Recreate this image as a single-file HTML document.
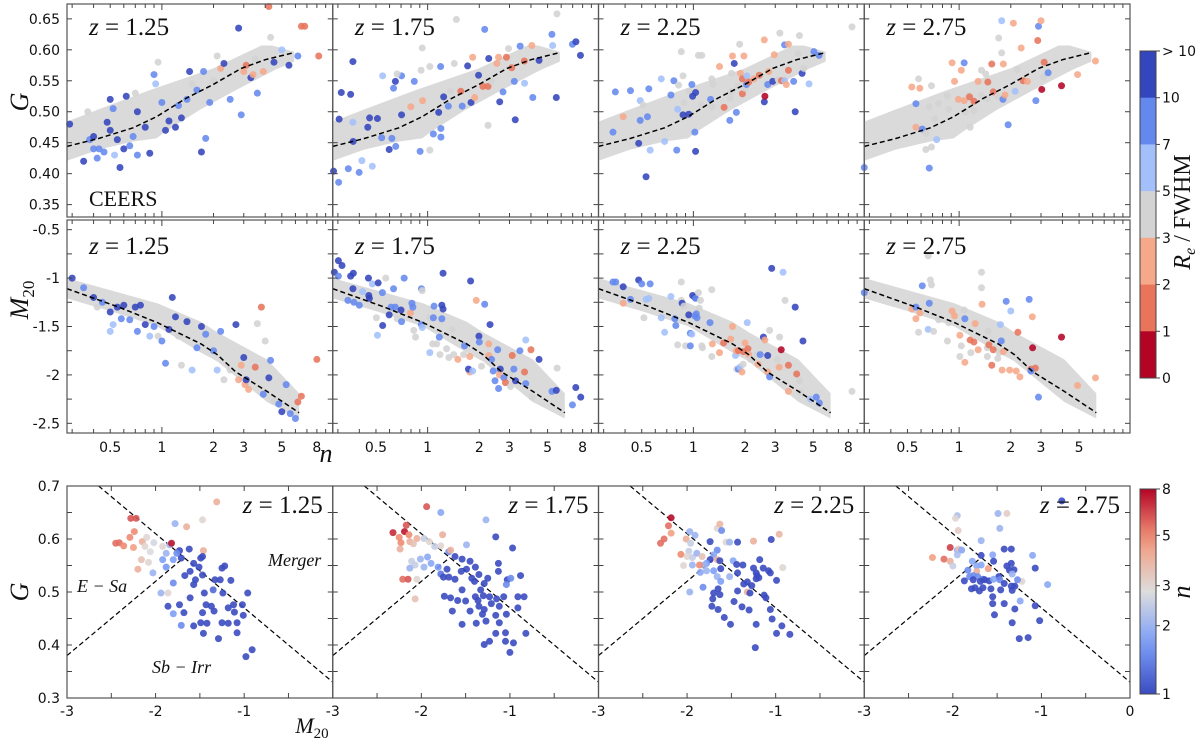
<!DOCTYPE html>
<html>
<head>
<meta charset="utf-8">
<style>
html,body{margin:0;padding:0;background:#fff;}
svg{display:block;}
text{font-family:"DejaVu Sans","Liberation Sans",sans-serif;}
.serif{font-family:"Liberation Serif","DejaVu Serif",serif;}
</style>
</head>
<body>
<svg id="chart" width="1200" height="740" viewBox="0 0 1200 740" xmlns="http://www.w3.org/2000/svg"></svg>
<script>
// ===== DATA =====
const redshifts = ["1.25","1.75","2.25","2.75"];
const catColors = ['#b40426','#e7745b','#f6a98a','#d3d3d3','#a3c0fb','#6489ee','#3446bd'];
const reTickLabels = ["> 10","10","7","5","3","2","1","0"];
const nTickValues = [8,5,3,2,1];
const logTickLabels = [0.5,1,2,3,5,8];
const gTopTicks = [0.65,0.60,0.55,0.50,0.45,0.40,0.35];
const m20Ticks = [-0.5,-1,-1.5,-2,-2.5];
const gBotTicks = [0.7,0.6,0.5,0.4,0.3];
const m20BotTicks = [-3,-2,-1,0];

const bandGUpper = [[0.28,0.484],[0.42,0.503],[0.85,0.535],[1.99,0.57],[3.8,0.607],[4.4,0.607],[5.9,0.597]];
const bandGLower = [[5.9,0.581],[4.6,0.568],[2.7,0.535],[1.66,0.503],[1.05,0.468],[0.93,0.457],[0.68,0.452],[0.43,0.439],[0.28,0.421]];
const medianG = [[0.28,0.444],[0.43,0.457],[0.68,0.474],[0.93,0.492],[1.39,0.522],[1.99,0.544],[2.9,0.57],[4.0,0.584],[5.8,0.595]];
const bandMUpper = [[0.28,-1.0],[0.94,-1.26],[1.69,-1.45],[2.1,-1.56],[4.1,-1.84],[6.3,-2.19]];
const bandMLower = [[6.3,-2.45],[4.1,-2.28],[2.1,-1.86],[1.69,-1.77],[0.94,-1.5],[0.52,-1.35],[0.28,-1.21]];
const medianM = [[0.28,-1.11],[0.56,-1.3],[0.94,-1.46],[1.69,-1.68],[2.1,-1.79],[2.7,-1.97],[4.1,-2.17],[6.3,-2.39]];

const top1 = [[0.29,0.48,6],[0.35,0.42,6],[0.37,0.50,3],[0.38,0.455,5],[0.40,0.44,5],[0.40,0.46,6],[0.42,0.425,5],[0.43,0.44,5],[0.46,0.435,5],[0.48,0.483,6],[0.50,0.52,6],[0.52,0.505,5],[0.50,0.47,6],[0.53,0.43,4],[0.55,0.455,6],[0.57,0.41,6],[0.6,0.44,6],[0.62,0.525,6],[0.65,0.445,5],[0.68,0.46,5],[0.72,0.50,6],[0.72,0.43,5],[0.80,0.475,6],[0.85,0.433,6],[0.9,0.56,5],[0.92,0.545,4],[0.95,0.58,3],[1.0,0.515,5],[1.05,0.47,6],[1.1,0.485,6],[1.2,0.475,6],[1.25,0.51,5],[1.3,0.49,6],[1.4,0.52,5],[1.45,0.565,6],[1.6,0.535,5],[1.7,0.435,6],[1.75,0.565,5],[1.8,0.457,5],[1.9,0.515,5],[2.1,0.59,3],[2.2,0.57,2],[2.3,0.578,6],[2.5,0.52,5],[2.8,0.635,6],[2.9,0.495,5],[3.0,0.565,2],[3.1,0.575,1],[3.3,0.555,6],[3.4,0.56,2],[3.6,0.53,5],[3.9,0.565,2],[4.2,0.67,1],[4.3,0.62,3],[4.5,0.58,6],[5,0.60,4],[5.5,0.575,6],[6.2,0.59,5],[6.5,0.638,1],[6.8,0.638,1],[8.2,0.59,1],[2.0,0.55,3],[1.5,0.545,3],[0.7,0.53,3],[3.5,0.585,3]];
const top2 = [[.283,.404,6],[.303,.386,5],[.305,.488,6],[.314,.531,6],[.356,.528,6],[.367,.581,6],[.345,.408,5],[.399,.402,5],[.414,.421,4],[.476,.412,4],[.367,.483,4],[.368,.452,6],[.448,.475,6],[.459,.49,6],[.51,.489,6],[.54,.458,5],[.547,.558,4],[.597,.439,6],[.619,.457,5],[.633,.538,5],[.649,.549,6],[.652,.444,5],[.705,.558,5],[.705,.495,6],[.664,.561,3],[.798,.508,2],[.836,.549,5],[.904,.436,5],[.916,.567,3],[.93,.603,3],[.935,.518,2],[1.03,.438,3],[1.08,.464,5],[1.03,.573,3],[1.19,.573,5],[1.16,.499,6],[1.195,.473,5],[1.195,.459,5],[1.24,.524,6],[1.32,.509,5],[1.36,.533,3],[1.43,.578,3],[1.47,.649,3],[1.56,.533,1],[1.59,.509,5],[1.71,.574,6],[1.79,.515,6],[1.83,.588,2],[1.88,.523,2],[1.98,.559,6],[2.1,.541,1],[2.15,.633,5],[2.25,.478,3],[2.27,.586,6],[2.25,.541,1],[2.36,.549,3],[2.53,.578,2],[2.59,.588,2],[2.63,.516,6],[2.75,.532,5],[2.88,.588,1],[2.96,.602,3],[3.09,.571,1],[3.2,.549,5],[3.24,.487,6],[3.46,.606,5],[3.66,.582,1],[3.67,.546,4],[4.05,.607,2],[4.1,.523,5],[4.46,.583,6],[5.3,.625,5],[5.35,.607,4],[5.62,.523,6],[5.67,.658,3],[6.98,.609,5],[7.31,.613,6],[7.77,.591,6]];
const top3 = [[.351,.532,5],[.43,.534,5],[.49,.518,4],[.55,.537,5],[.65,.553,4],[.77,.55,5],[.39,.492,2],[.34,.467,5],[.49,.486,5],[.54,.492,5],[.51,.511,3],[.48,.449,6],[.56,.438,4],[.68,.452,4],[.80,.438,5],[.53,.395,6],[.81,.504,4],[.74,.527,5],[.82,.543,3],[.85,.597,3],[.87,.558,3],[.88,.515,3],[.87,.495,6],[.94,.533,3],[.94,.496,6],[.98,.544,5],[.99,.525,6],[1.03,.531,6],[1.03,.436,6],[1.02,.467,5],[1.07,.591,3],[1.12,.591,3],[1.11,.511,3],[1.26,.52,5],[1.28,.508,3],[1.28,.553,3],[1.3,.544,3],[1.42,.573,2],[1.51,.507,1],[1.63,.486,5],[1.64,.522,3],[1.67,.533,3],[1.67,.562,3],[1.69,.59,2],[1.73,.578,6],[1.78,.499,5],[1.81,.541,3],[1.86,.609,3],[1.88,.562,2],[1.93,.553,1],[1.93,.529,1],[1.97,.59,2],[1.99,.538,3],[2.04,.544,5],[2.05,.558,4],[2.1,.548,1],[2.25,.553,2],[2.42,.559,1],[2.59,.616,2],[2.59,.516,6],[2.61,.525,0],[2.71,.544,5],[2.75,.565,2],[2.9,.549,6],[2.96,.592,2],[3.12,.552,3],[3.19,.627,3],[3.26,.55,1],[3.4,.608,5],[3.4,.55,4],[3.48,.544,2],[3.58,.567,1],[3.58,.609,2],[3.84,.549,5],[3.92,.5,6],[4.07,.594,3],[4.15,.623,3],[4.3,.562,6],[4.4,.57,3],[4.72,.545,4],[5.04,.597,5],[5.4,.591,5],[8.4,.637,3]];
const top4 = [[.28,.41,5],[.53,.54,2],[.59,.538,2],[.58,.553,3],[.69,.542,3],[.56,.513,5],[.56,.475,2],[.61,.472,5],[.64,.465,3],[.64,.439,3],[.69,.443,3],[.74,.455,4],[.67,.409,5],[.67,.508,3],[.76,.513,3],[.72,.488,3],[.855,.526,3],[.87,.504,3],[.91,.579,2],[.94,.549,2],[1.03,.567,2],[1.07,.579,5],[.99,.52,2],[1.07,.518,2],[1.09,.499,3],[1.13,.526,3],[1.15,.524,1],[1.22,.517,1],[1.16,.475,3],[1.22,.502,3],[1.29,.549,2],[1.35,.526,3],[1.35,.567,3],[1.43,.561,3],[1.47,.548,1],[1.46,.521,3],[1.55,.577,1],[1.58,.532,1],[1.68,.525,3],[1.7,.619,3],[1.77,.595,3],[1.77,.647,4],[1.8,.52,5],[1.81,.577,2],[1.85,.527,2],[1.93,.479,5],[2.07,.643,2],[2.12,.533,4],[2.18,.568,3],[2.3,.603,2],[2.36,.55,1],[2.5,.549,2],[2.8,.518,5],[2.87,.615,1],[2.9,.638,5],[3.0,.647,2],[3.03,.536,0],[3.1,.556,3],[3.13,.58,1],[3.3,.563,5],[3.95,.542,0],[4.9,.56,2],[6.23,.582,2]];

const mid1 = [[0.3,-1.0,6],[0.35,-1.1,5],[0.4,-1.2,6],[0.42,-1.3,3],[0.45,-1.25,5],[0.5,-1.35,6],[0.52,-1.48,4],[0.55,-1.3,6],[0.58,-1.42,5],[0.6,-1.28,6],[0.65,-1.43,5],[0.7,-1.3,6],[0.72,-1.55,5],[0.75,-1.28,6],[0.8,-1.48,6],[0.85,-1.6,4],[0.9,-1.5,5],[0.95,-1.6,3],[1.0,-1.65,5],[1.05,-1.88,5],[1.1,-1.53,6],[1.15,-1.2,6],[1.2,-1.4,6],[1.3,-1.9,3],[1.4,-1.45,6],[1.5,-1.95,4],[1.6,-1.72,5],[1.7,-1.5,6],[1.8,-1.58,5],[2.0,-1.75,5],[2.1,-1.95,4],[2.2,-1.55,5],[2.3,-2.05,3],[2.5,-1.95,3],[2.7,-1.48,6],[2.8,-2.05,2],[2.9,-1.9,2],[3.0,-1.82,6],[3.05,-2.1,2],[3.1,-2.05,6],[3.2,-2.15,2],[3.5,-1.92,1],[3.6,-1.47,3],[3.8,-1.3,1],[3.9,-2.2,5],[4.0,-1.65,3],[4.2,-2.03,6],[4.3,-1.85,5],[4.5,-2.27,3],[4.8,-2.3,5],[5.0,-2.38,6],[5.3,-2.1,5],[5.6,-2.4,5],[6.0,-2.45,5],[6.2,-2.28,1],[6.5,-2.22,1],[8.0,-1.84,1],[0.5,-1.55,4],[1.25,-1.6,3]];
const mid2 = [[.286,-.94,6],[.302,-.82,6],[.317,-.87,6],[.302,-.98,5],[.356,-.98,6],[.369,-.95,6],[.343,-1.23,5],[.367,-1.11,6],[.372,-1.25,5],[.40,-1.28,5],[.418,-1.14,4],[.452,-1.0,6],[.454,-1.18,6],[.458,-1.21,6],[.476,-1.06,4],[.515,-1.05,6],[.545,-1.15,5],[.57,-1.0,3],[.503,-1.41,3],[.51,-1.59,4],[.547,-1.49,6],[.597,-1.38,6],[.613,-1.30,5],[.633,-1.11,5],[.648,-1.30,5],[.664,-1.42,3],[.70,-1.33,6],[.705,-1.45,5],[.73,-1.0,5],[.795,-1.36,2],[.81,-1.26,5],[.82,-1.30,5],[.83,-1.54,3],[.85,-1.61,3],[.92,-1.11,5],[.93,-1.13,3],[.92,-1.48,5],[.93,-1.51,4],[1.03,-1.41,3],[1.08,-1.41,5],[1.09,-1.29,5],[1.17,-1.61,5],[1.21,-1.42,5],[1.23,-.95,6],[1.21,-1.28,6],[1.23,-1.32,6],[1.07,-1.68,3],[1.13,-1.68,3],[1.03,-1.77,4],[1.18,-1.79,3],[1.29,-1.73,3],[1.33,-1.82,3],[1.39,-1.53,3],[1.42,-1.79,3],[1.5,-1.84,2],[1.64,-1.70,5],[1.62,-1.79,3],[1.78,-1.03,6],[1.76,-1.81,2],[1.76,-1.97,2],[1.73,-1.94,6],[1.83,-1.96,4],[1.92,-1.23,2],[1.99,-1.60,6],[2.0,-1.66,5],[2.15,-1.27,5],[2.06,-1.91,3],[2.27,-1.68,2],[2.31,-1.48,6],[2.27,-1.80,2],[2.36,-1.84,5],[2.41,-1.96,5],[2.47,-2.06,5],[2.56,-1.74,5],[2.59,-2.14,5],[2.65,-1.94,6],[2.62,-2.0,2],[2.78,-2.03,5],[2.84,-2.08,1],[3.0,-1.99,3],[3.04,-2.12,3],[3.11,-1.80,1],[3.18,-1.94,5],[3.25,-2.06,6],[3.45,-1.75,5],[3.67,-1.97,1],[3.73,-1.64,4],[3.73,-2.09,5],[4.0,-1.74,1],[4.06,-2.23,3],[4.46,-1.84,6],[5.3,-2.17,5],[5.68,-1.93,3],[5.62,-2.16,6],[6.98,-2.31,5],[7.3,-2.13,6],[7.8,-2.23,6]];
const mid3 = [[.34,-1.04,5],[.353,-1.04,5],[.39,-1.09,6],[.39,-1.26,2],[.43,-1.22,5],[.48,-1.02,6],[.50,-1.06,5],[.56,-1.06,5],[.515,-1.41,3],[.53,-1.22,4],[.55,-1.21,4],[.65,-1.41,4],[.68,-1.56,4],[.74,-1.19,4],[.78,-1.42,5],[.79,-1.49,5],[.81,-1.69,3],[.85,-1.04,3],[.85,-1.23,3],[.86,-1.26,6],[.88,-1.29,3],[.90,-1.70,3],[.96,-1.70,5],[.96,-1.57,5],[.98,-1.58,4],[.99,-1.18,6],[1.02,-1.20,6],[1.03,-1.21,5],[1.08,-1.31,3],[1.04,-1.37,5],[1.07,-1.15,3],[1.1,-1.23,3],[1.12,-1.70,3],[.94,-1.38,6],[1.02,-1.39,5],[1.05,-1.41,5],[1.13,-1.72,3],[1.28,-1.12,3],[1.25,-1.46,5],[1.28,-1.81,3],[1.29,-1.68,2],[1.42,-1.77,2],[1.5,-1.67,1],[1.65,-1.63,2],[1.69,-1.50,2],[1.79,-1.94,3],[1.76,-1.80,4],[1.83,-1.94,5],[1.87,-1.92,4],[1.92,-1.97,2],[1.78,-1.75,2],[1.83,-1.75,1],[1.96,-1.76,1],[2.06,-1.46,4],[2.0,-1.67,2],[2.08,-1.73,1],[1.95,-1.89,3],[2.1,-1.79,2],[2.15,-1.84,3],[2.34,-1.79,3],[2.38,-1.89,2],[2.45,-1.79,5],[2.56,-1.61,6],[2.61,-1.64,2],[2.71,-1.80,6],[2.78,-1.54,3],[2.71,-1.97,2],[2.78,-2.02,5],[2.86,-.90,6],[3.09,-1.84,3],[3.16,-1.92,2],[3.18,-1.61,3],[3.25,-1.74,0],[3.33,-.94,4],[3.42,-1.23,3],[3.58,-1.90,1],[3.58,-2.17,2],[3.92,-1.30,6],[4.0,-1.99,1],[4.15,-2.06,3],[4.2,-2.18,3],[4.35,-1.65,6],[4.82,-2.25,4],[5.2,-2.23,5],[5.42,-2.29,5],[8.4,-2.17,3]];
const mid4 = [[.28,-1.15,5],[.53,-1.32,2],[.56,-1.30,5],[.56,-1.42,2],[.59,-1.36,2],[.58,-1.56,3],[.61,-1.08,5],[.67,-1.26,5],[.66,-1.53,4],[.66,-.77,3],[.68,-1.02,3],[.69,-1.07,3],[.71,-1.55,3],[.76,-1.43,3],[.855,-1.65,3],[.91,-1.34,2],[.94,-1.39,2],[.87,-1.46,3],[1.07,-1.33,3],[1.08,-1.42,5],[1.01,-1.59,2],[1.03,-1.7,3],[1.01,-1.81,3],[1.08,-1.87,2],[1.16,-1.64,1],[1.22,-1.66,1],[1.24,-1.47,2],[1.17,-1.77,3],[1.29,-1.74,2],[1.35,-.94,3],[1.35,-1.1,3],[1.36,-1.27,2],[1.46,-1.72,3],[1.49,-1.69,1],[1.48,-1.55,3],[1.58,-1.74,1],[1.46,-1.81,3],[1.55,-1.9,1],[1.68,-1.83,3],[1.71,-1.77,3],[1.74,-1.48,4],[1.76,-1.65,5],[1.78,-1.95,2],[1.81,-1.76,2],[1.88,-1.24,5],[2.0,-1.34,4],[1.97,-1.95,2],[2.15,-1.96,2],[2.2,-1.56,1],[2.26,-2.02,2],[2.56,-1.22,5],[2.67,-1.4,2],[2.68,-1.72,0],[2.62,-1.94,1],[2.78,-1.93,1],[2.62,-1.96,5],[2.9,-2.23,5],[3.95,-1.61,0],[4.9,-2.11,2],[6.23,-2.03,2]];

const bot1 = [[-2.28,.639,6],[-2.22,.639,6],[-2.24,.614,5],[-2.29,.603,5],[-2.45,.592,5.5],[-2.41,.593,5.5],[-2.36,.587,5],[-2.25,.584,4.5],[-2.15,.595,4],[-2.10,.603,3],[-2.12,.586,3],[-2.02,.593,2.7],[-2.06,.576,2.8],[-2.16,.561,3.5],[-2.08,.556,3],[-2.20,.543,4],[-2.03,.536,2],[-1.92,.586,3],[-1.88,.573,2],[-1.92,.561,1.7],[-1.84,.589,2],[-1.82,.592,7.5],[-1.78,.629,2],[-1.65,.623,4],[-1.47,.636,3],[-1.31,.67,4],[-1.46,.578,4],[-1.73,.578,1],[-1.62,.581,1],[-1.76,.573,1.5],[-1.80,.561,1.7],[-1.71,.564,1],[-1.88,.547,1.6],[-1.80,.517,1.5],[-1.94,.498,2],[-1.86,.498,3],[-1.67,.531,1],[-1.57,.554,1],[-1.49,.564,1],[-1.47,.567,1],[-1.61,.539,1],[-1.51,.547,1],[-1.55,.523,1],[-1.57,.514,1],[-1.47,.532,1],[-1.33,.523,1],[-1.25,.545,1],[-1.22,.549,1],[-1.27,.523,1],[-1.15,.522,1],[-1.35,.504,1.2],[-1.24,.498,1],[-1.45,.498,1],[-1.61,.489,1],[-1.73,.476,1],[-1.86,.473,1],[-1.68,.461,1],[-1.80,.459,1.7],[-1.43,.476,1],[-1.37,.473,1],[-1.34,.464,1],[-1.47,.461,1],[-1.12,.476,1],[-1.18,.47,1],[-1.11,.462,1],[-1.02,.476,1],[-0.96,.498,1],[-1.01,.456,1],[-1.57,.436,1],[-1.49,.442,1],[-1.42,.441,1],[-1.71,.437,1.5],[-1.25,.442,1],[-1.18,.441,1],[-1.08,.442,1],[-1.46,.422,1],[-1.29,.412,1],[-1.08,.423,1],[-0.98,.378,1],[-0.91,.391,1]];
const bot2 = [[-1.94,.661,6],[-1.78,.65,1.8],[-1.27,.636,2],[-2.32,.612,7],[-2.19,.614,7.5],[-2.25,.603,5],[-2.17,.626,6],[-2.14,.608,5],[-2.05,.601,4],[-2.13,.595,4],[-2.09,.591,3.5],[-2.23,.593,5],[-2.24,.581,4],[-1.97,.601,2.5],[-1.91,.595,3],[-1.85,.586,2.5],[-1.76,.608,4],[-1.78,.587,3],[-1.69,.576,1.5],[-1.67,.579,4],[-1.62,.567,1],[-1.49,.589,2],[-1.54,.562,1],[-1.45,.558,1],[-1.39,.547,1],[-1.49,.543,1],[-2.01,.562,2],[-1.93,.566,1.8],[-2.07,.551,2.5],[-2.13,.545,2],[-2.11,.558,2.5],[-1.97,.547,2],[-1.89,.554,1.8],[-1.81,.547,1.6],[-2.05,.524,3],[-2.21,.524,5.5],[-2.15,.524,6],[-2.07,.487,3.5],[-1.71,.543,1],[-1.78,.534,1.3],[-1.75,.528,1],[-1.69,.528,1],[-1.62,.524,1],[-1.55,.539,1],[-1.43,.526,1],[-1.35,.533,1],[-1.29,.516,1],[-1.40,.52,1],[-1.33,.504,1],[-1.16,.604,1],[-0.97,.583,1],[-1.13,.554,1],[-1.13,.539,1],[-1.03,.523,1],[-0.99,.526,1.5],[-0.88,.531,1],[-1.04,.514,1.5],[-1.25,.526,1],[-1.54,.504,1],[-1.74,.492,1],[-1.67,.489,1],[-1.59,.484,1],[-1.50,.483,1],[-1.39,.491,1],[-1.30,.493,1],[-1.23,.491,1],[-1.15,.487,1],[-1.07,.491,1],[-0.91,.491,1],[-0.84,.491,1],[-1.21,.478,1],[-1.12,.473,1],[-1.36,.484,1],[-1.65,.464,1],[-1.45,.464,1],[-1.35,.473,1],[-1.29,.467,1],[-1.16,.456,1],[-1.04,.458,1],[-0.91,.47,1],[-1.31,.458,1],[-1.38,.441,1],[-1.54,.439,1],[-1.27,.445,1],[-1.12,.442,1],[-1.16,.422,1],[-1.05,.423,1],[-0.82,.422,1],[-1.29,.401,1],[-1.23,.407,1],[-1.05,.407,1],[-0.96,.404,1],[-1.0,.386,1]];
const bot3 = [[-2.18,.64,7.8],[-2.21,.625,5.5],[-2.18,.611,4.5],[-2.26,.60,5.5],[-2.30,.592,5.5],[-2.01,.60,4],[-1.97,.614,2],[-1.91,.607,2],[-1.96,.592,2.5],[-2.07,.571,5],[-1.98,.577,2.5],[-2.0,.567,3],[-1.94,.565,2.5],[-1.89,.573,2],[-1.83,.567,3.5],[-1.74,.595,1],[-1.66,.62,3],[-1.63,.628,3.8],[-1.61,.616,1.5],[-1.56,.594,3],[-1.52,.594,2],[-1.43,.594,1],[-1.25,.596,4],[-1.05,.599,1],[-0.96,.609,3.8],[-0.92,.546,3],[-1.66,.579,1.5],[-1.70,.57,1.8],[-1.66,.561,4],[-1.74,.561,1],[-1.63,.559,1],[-1.78,.554,1.7],[-1.81,.551,2],[-1.86,.551,5],[-1.94,.551,2],[-2.04,.55,3],[-1.85,.537,1.8],[-1.78,.54,2],[-1.70,.54,1.7],[-1.66,.529,2],[-1.62,.544,1],[-1.52,.529,2],[-1.62,.52,1.7],[-1.48,.559,1.8],[-1.44,.552,1],[-1.37,.551,1],[-1.43,.536,1],[-1.36,.515,1],[-1.32,.519,1],[-1.25,.545,1],[-1.22,.536,1],[-1.21,.531,1],[-1.19,.527,1],[-1.14,.545,1],[-1.08,.54,1],[-1.06,.536,1],[-0.99,.522,1],[-1.18,.561,1],[-1.22,.525,1],[-1.27,.512,1],[-1.32,.50,4],[-1.43,.502,1],[-1.29,.498,1],[-1.97,.50,2],[-1.82,.509,1.5],[-1.70,.498,1],[-1.65,.506,1],[-1.71,.487,1],[-1.63,.495,1],[-1.72,.473,1],[-1.65,.467,1],[-1.47,.482,1],[-1.38,.472,1],[-1.30,.466,1],[-1.13,.494,1],[-1.11,.489,1],[-1.06,.467,1],[-1.58,.452,1],[-1.51,.439,1],[-1.22,.439,1],[-1.04,.449,1],[-0.99,.422,1],[-0.93,.436,1],[-0.84,.42,1],[-1.23,.395,1]];
const bot4 = [[-1.95,.644,2.2],[-1.97,.639,3],[-1.49,.648,2],[-1.39,.648,3.2],[-1.47,.62,2],[-1.94,.616,3.2],[-1.68,.597,2],[-2.03,.584,6.5],[-1.95,.579,2],[-1.93,.581,3.5],[-1.90,.579,1.8],[-1.95,.57,2.2],[-2.23,.565,4.5],[-2.10,.562,5.5],[-2.03,.558,4],[-2.0,.549,2.5],[-1.78,.558,1.8],[-1.68,.569,1],[-1.55,.57,1.8],[-1.42,.581,1],[-1.34,.581,1],[-1.10,.569,1.8],[-1.60,.544,4.5],[-1.73,.549,1.8],[-1.68,.551,1.8],[-1.73,.539,4],[-1.83,.541,1.5],[-1.81,.529,1.5],[-1.77,.531,1.5],[-1.72,.529,1.5],[-1.66,.524,1.3],[-1.54,.558,1],[-1.48,.529,1],[-1.39,.549,1],[-1.34,.554,1],[-1.36,.541,1],[-1.31,.542,1],[-1.33,.534,2],[-1.22,.52,3],[-1.07,.545,1],[-1.27,.523,1.5],[-1.87,.521,1],[-1.77,.523,1],[-1.69,.52,1],[-1.64,.523,1],[-1.59,.521,1],[-1.54,.524,1.8],[-1.47,.523,1.5],[-1.42,.516,1],[-1.34,.511,1],[-1.30,.511,1],[-1.79,.506,1],[-1.75,.508,1],[-1.70,.502,1],[-1.66,.508,1],[-1.57,.506,1],[-1.46,.504,1],[-1.33,.503,1],[-0.93,.514,1.8],[-1.55,.491,1],[-1.55,.478,1],[-1.42,.478,1],[-1.24,.483,1.8],[-1.30,.468,1],[-1.07,.474,1],[-1.53,.457,1],[-1.33,.442,1],[-1.02,.446,1],[-1.25,.412,1],[-1.15,.414,1],[-0.77,.672,1]];

const topSets = [top1,top2,top3,top4];
const midSets = [mid1,mid2,mid3,mid4];
const botSets = [bot1,bot2,bot3,bot4];

// ===== LAYOUT =====
const NS = "http://www.w3.org/2000/svg";
const svg = document.getElementById('chart');
const colL = [67,332.75,598.5,864.25], W = 265.75;
const rows = {top:[4,217], mid:[220,433], bot:[486,698]};
const nMin = 0.28, nMax = 9.9;
function xLog(i,n){return colL[i] + (Math.log10(n)-Math.log10(nMin))/(Math.log10(nMax)-Math.log10(nMin))*W;}
function yTop(g){return rows.top[1] - (g-0.33)/(0.674-0.33)*(rows.top[1]-rows.top[0]);}
function yMid(m){return rows.mid[1] - (m-(-2.60))/(2.20)*(rows.mid[1]-rows.mid[0]);}
function xBot(i,m){return colL[i] + (m+3)/3*W;}
function yBot(g){return rows.bot[1] - (g-0.3)/0.4*(rows.bot[1]-rows.bot[0]);}

function mk(tag, attrs, parent){
  const el = document.createElementNS(NS, tag);
  for (const k in attrs) el.setAttribute(k, attrs[k]);
  (parent||svg).appendChild(el);
  return el;
}
function lerp(a,b,t){return a+(b-a)*t;}
const cwStops = [[0,[59,76,192]],[0.25,[124,159,249]],[0.5,[221,221,221]],[0.75,[244,154,123]],[1,[180,4,38]]];
function coolwarm(t){
  t=Math.max(0,Math.min(1,t));
  for(let k=0;k<cwStops.length-1;k++){
    const [t0,c0]=cwStops[k],[t1,c1]=cwStops[k+1];
    if(t<=t1){const u=(t-t0)/(t1-t0);return 'rgb('+c0.map((v,j)=>Math.round(lerp(v,c1[j],u))).join(',')+')';}
  }
  return 'rgb(180,4,38)';
}
function nNorm(n){return Math.log(n)/Math.log(8);}

function frame(i,row,name){
  const [t,b]=rows[row];
  const r = mk('rect',{x:colL[i],y:t,width:W,height:b-t,fill:'none',stroke:'#555','stroke-width':1.2});
  
  
}
function tick(x1,y1,x2,y2){
  const l = mk('line',{x1:x1,y1:y1,x2:x2,y2:y2,stroke:'#444','stroke-width':1});
  
  
}
function label(x,y,txt,anchor,size,name,cls){
  const t = mk('text',{x:x,y:y,'text-anchor':anchor||'middle','font-size':size||14,fill:'#111'});
  if(cls) t.setAttribute('class',cls);
  t.textContent = txt;
  
  
  return t;
}
function zTitle(x,y,z,anchor,name){
  const t = mk('text',{x:x,y:y,'text-anchor':anchor,'font-size':25,fill:'#111',class:'serif'});
  const s1 = mk('tspan',{'font-style':'italic'},t); s1.textContent='z';
  const s2 = mk('tspan',{},t); s2.textContent=' = '+z;
  
  
}
function polyPath(pts, fx, fy){
  return pts.map((p,k)=>(k?'L':'M')+fx(p[0]).toFixed(1)+','+fy(p[1]).toFixed(1)).join(' ');
}

const logMinor = [0.3,0.4,0.5,0.6,0.7,0.8,0.9,1,2,3,4,5,6,7,8,9];

for(let i=0;i<4;i++){
  // ---- top row: G vs n ----
  const fx = n=>xLog(i,n);
  const band1 = mk('path',{d:polyPath(bandGUpper.concat(bandGLower),fx,yTop)+' Z',fill:'#dadada',stroke:'none'});
  
  
  topSets[i].forEach(p=>{
    const c = mk('circle',{cx:fx(p[0]),cy:yTop(p[1]),r:3.5,fill:catColors[p[2]],'fill-opacity':0.88});
    
    
  });
  const med1 = mk('path',{d:polyPath(medianG,fx,yTop),fill:'none',stroke:'#000','stroke-width':1.5,'stroke-dasharray':'5,3'});
  
  
  frame(i,'top','gini-panel-'+redshifts[i]);
  // ---- mid row: M20 vs n ----
  const band2 = mk('path',{d:polyPath(bandMUpper.concat(bandMLower),fx,yMid)+' Z',fill:'#dadada',stroke:'none'});
  
  
  midSets[i].forEach(p=>{
    const c = mk('circle',{cx:fx(p[0]),cy:yMid(p[1]),r:3.5,fill:catColors[p[2]],'fill-opacity':0.88});
    
    
  });
  const med2 = mk('path',{d:polyPath(medianM,fx,yMid),fill:'none',stroke:'#000','stroke-width':1.5,'stroke-dasharray':'5,3'});
  
  
  frame(i,'mid','m20-panel-'+redshifts[i]);
  // ---- bottom row: G vs M20 ----
  const fxb = m=>xBot(i,m);
  const lineA = mk('path',{d:polyPath([[-2.643,0.7],[0,0.33]],fxb,yBot),fill:'none',stroke:'#000','stroke-width':1.2,'stroke-dasharray':'5,3'});
  
  
  const lineB = mk('path',{d:polyPath([[-3,0.38],[-1.68,0.565]],fxb,yBot),fill:'none',stroke:'#000','stroke-width':1.2,'stroke-dasharray':'5,3'});
  
  
  botSets[i].forEach(p=>{
    const c = mk('circle',{cx:fxb(p[0]),cy:yBot(p[1]),r:3.5,fill:coolwarm(nNorm(p[2])),'fill-opacity':0.9});
    
    
  });
  frame(i,'bot','gini-m20-panel-'+redshifts[i]);

  // ticks top/mid rows
  ['top','mid'].forEach(row=>{
    const [t,b]=rows[row];
    logMinor.forEach(v=>{
      const x=fx(v); const len=(v===1)?6:4;
      tick(x,b,x,b-len); tick(x,t,x,t+len);
    });
  });
  gTopTicks.forEach(g=>{const y=yTop(g); tick(colL[i],y,colL[i]+5,y); tick(colL[i]+W,y,colL[i]+W-5,y);});
  for(let m=-0.5;m>=-2.51;m-=0.25){const y=yMid(m); tick(colL[i],y,colL[i]+5,y); tick(colL[i]+W,y,colL[i]+W-5,y);}
  for(let g=0.35;g<=0.66;g+=0.05){const y=yBot(g); tick(colL[i],y,colL[i]+5,y); tick(colL[i]+W,y,colL[i]+W-5,y);}
  for(let m=-2.5;m<=-0.49;m+=0.5){const x=fxb(m); tick(x,rows.bot[1],x,rows.bot[1]-5); tick(x,rows.bot[0],x,rows.bot[0]+5);}
  // x tick labels mid row
  logTickLabels.forEach(v=>{ if(i===3 && v===8) return; label(fx(v),452,String(v),'middle',14,'n-tick-label'); });
  // bottom x tick labels
  m20BotTicks.forEach(m=>{ if(m===0 && i<3) return; label(fxb(m),716,String(m),'middle',14,'m20-tick-label'); });
  // titles
  zTitle(colL[i]+22,35,redshifts[i],'start','gini-panel-title-'+redshifts[i]);
  zTitle(colL[i]+22,254,redshifts[i],'start','m20-panel-title-'+redshifts[i]);
  zTitle(colL[i]+W-10,513,redshifts[i],'end','gini-m20-panel-title-'+redshifts[i]);
}

// y tick labels
gTopTicks.forEach(g=>label(60,yTop(g)+5,g.toFixed(2),'end',14,'gini-tick-label'));
m20Ticks.forEach(m=>label(60,yMid(m)+5,String(m),'end',14,'m20-tick-label'));
gBotTicks.forEach(g=>label(60,yBot(g)+5,g.toFixed(1),'end',14,'gini-bottom-tick-label'));

// axis titles
function rotLabel(x,y,parts,name,size){
  const t = mk('text',{x:0,y:0,transform:'translate('+x+','+y+') rotate(-90)','text-anchor':'middle','font-size':size||26,fill:'#111',class:'serif'});
  parts.forEach(pt=>{const s=mk('tspan',pt[1],t); s.textContent=pt[0];});
  
  
}
rotLabel(28,102,[['G',{'font-style':'italic'}]],'y-axis-title-gini');
rotLabel(28,300,[['M',{'font-style':'italic'}],['20',{'font-size':17,dy:6}]],'y-axis-title-m20');
rotLabel(28,592,[['G',{'font-style':'italic'}]],'y-axis-title-gini-bottom');
(function(){
  const t=mk('text',{x:326,y:462,'text-anchor':'middle','font-size':26,'font-style':'italic',fill:'#111',class:'serif'});
  t.textContent='n';
  
  
  const t2=mk('text',{x:312,y:733,'text-anchor':'middle','font-size':22,fill:'#111',class:'serif'});
  const a=mk('tspan',{'font-style':'italic'},t2); a.textContent='M';
  const b=mk('tspan',{'font-size':15,dy:5},t2); b.textContent='20';
  
  
})();

// annotations
(function(){
  const c=mk('text',{x:89,y:206,'font-size':22,fill:'#111',class:'serif'}); c.textContent='CEERS';
   
  const e=mk('text',{x:77,y:592,'font-size':18,'font-style':'italic',fill:'#111',class:'serif'}); e.textContent='E − Sa';
   
  const m=mk('text',{x:268,y:566,'font-size':18,'font-style':'italic',fill:'#111',class:'serif'}); m.textContent='Merger';
   
  const s=mk('text',{x:152,y:673,'font-size':18,'font-style':'italic',fill:'#111',class:'serif'}); s.textContent='Sb − Irr';
   
})();

// colorbar 1 (categorical Re/FWHM)
(function(){
  const x=1140,w=16,y0=51,y1=378,h=(y1-y0)/7;
  for(let k=0;k<7;k++){
    const r=mk('rect',{x:x,y:y0+k*h,width:w,height:h+0.5,fill:catColors[6-k]});
    
    
  }
  const f=mk('rect',{x:x,y:y0,width:w,height:y1-y0,fill:'none',stroke:'#444','stroke-width':1});
   
  reTickLabels.forEach((lb,k)=>{const y=y0+k*h; tick(x+w,y,x+w+4,y); label(x+w+6,y+5,lb,'start',14,'re-colorbar-tick-label');});
  rotLabel(1190,212,[['R',{'font-style':'italic'}],['e',{'font-size':16,dy:5,'font-style':'italic'}],[' / FWHM',{dy:-5}]],'re-colorbar-title',24);
})();

// colorbar 2 (continuous n)
(function(){
  const x=1140,w=16,y0=489,y1=694;
  const defs=mk('defs',{});
  const g=mk('linearGradient',{id:'cwgrad',x1:0,y1:1,x2:0,y2:0},defs);
  for(let k=0;k<=10;k++){mk('stop',{offset:k/10,'stop-color':coolwarm(k/10)},g);}
  const r=mk('rect',{x:x,y:y0,width:w,height:y1-y0,fill:'url(#cwgrad)',stroke:'#444','stroke-width':1});
   
  nTickValues.forEach(v=>{const y=y1-nNorm(v)*(y1-y0); tick(x+w,y,x+w+4,y); label(x+w+6,y+5,String(v),'start',14,'n-colorbar-tick-label');});
  rotLabel(1190,592,[['n',{'font-style':'italic'}]],'n-colorbar-title',26);
})();
</script>
</body>
</html>
